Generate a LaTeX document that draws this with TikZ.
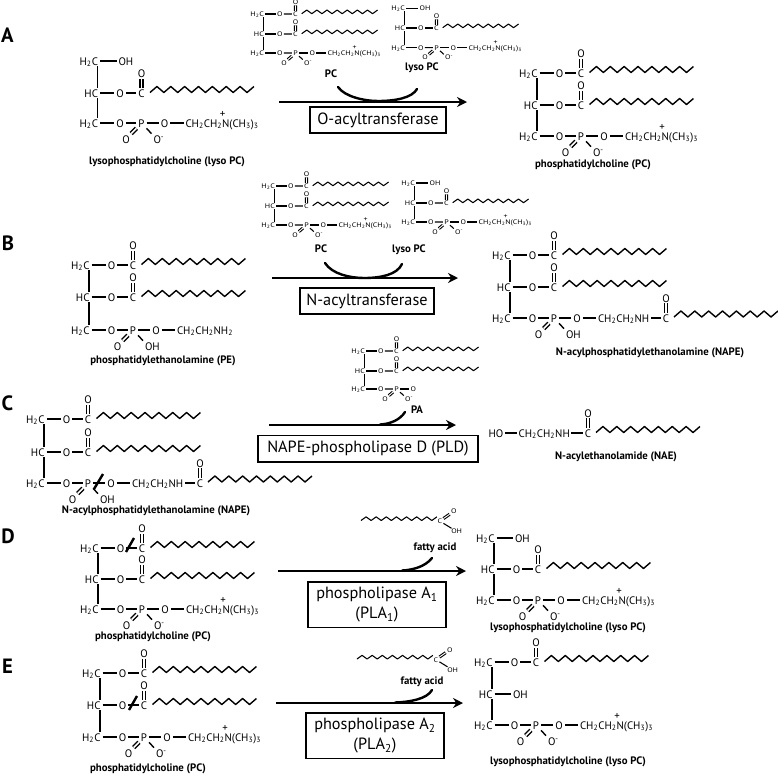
\documentclass[tikz,border=0pt]{standalone}
\usepackage{fontspec}
\setmainfont{PT Sans}
\usetikzlibrary{arrows.meta}

\newcommand{\atomfont}{\fontsize{8.15}{9}\selectfont}
\newcommand{\namefont}{\fontsize{8.1}{9}\selectfont\bfseries}
\newcommand{\htwoc}{H\textsubscript{2}C}
\newcommand{\chtwo}{CH\textsubscript{2}CH\textsubscript{2}}
\newcommand{\oxminus}{O\textsuperscript{-}}

% the parts every row shares
\newcommand{\spineatom}[1]{\node[atom,anchor=east] (g) at (8.5,0) {#1};}
\newcommand{\phoscore}[1]{
	\spineatom{\htwoc}
	\node[atom] (o) at (28.5,0) {O};
	\node[atom] (p) at (50,0) {P};
	\node[atom] (q) at (73,0) {O};
	\node[atom] (po) at (34.5,16) {O};
	\node[atom,anchor=west] (pr) at (60,16) {#1};
	\draw (g) -- (o);
	\draw (o) -- (p);
	\draw (p) -- (q);
	\draw[dbl] (p) -- (po);
	\draw (p) -- (pr.north west);
}
% spine bonds, #1 line style, #2 shift, #3 #4 #5 rows
\newcommand{\spinebonds}[5]{
	\draw[#1] ([xshift=#2]#3g.south east) -- ([xshift=#2]#4g.north east);
	\draw[#1] ([xshift=#2]#4g.south east) -- ([xshift=#2]#5g.north east);
}

\tikzset{
	atom/.style={font=\atomfont,inner xsep=1pt,inner ysep=.5pt,text height=6pt,text depth=0pt},
	molname/.style={font=\namefont,inner sep=0pt,text height=5.6pt,text depth=1.4pt},
	panel/.style={font=\fontsize{15.5}{16}\selectfont\bfseries,inner sep=0pt},
	enzyme/.style={draw,line width=1pt,font=\fontsize{12.2}{15}\selectfont,inner sep=0pt,align=center},
	reaction/.style={line width=2.2pt,-{Stealth[length=7.5pt,width=7.5pt]}},
	cosub/.style={line width=1.8pt,line cap=round},
	cutmark/.style={line width=1.8pt},
	bigline/.style={line width=1.05pt},
	smallline/.style={line width=.8pt},
	bigmol/.style={bigline,line join=round,dbl/.style={double,double distance=1.2pt}},
	smallmol/.style={xscale=.73,yscale=.61,transform shape,smallline,line join=round,dbl/.style={double,double distance=.7pt}},
	tail/.pic={
		\draw (0,0) \foreach \k in {1,...,7}{ -- ++(6.93,-6) -- ++(6.93,6) } -- ++(6.93,-6);
	},
	acylrow/.pic={
		\spineatom{#1}
		\node[atom] (o) at (28.5,0) {O};
		\node[atom] (c) at (50,0) {C};
		\node[atom] (co) at (50,-19.5) {O};
		\draw (g) -- (o);
		\draw (o) -- (c);
		\draw[dbl] (c) -- (co);
		\pic at (58.5,-.5) {tail};
	},
	hydroxyrow/.pic={
		\spineatom{#1}
		\node[atom,anchor=west] (oh) at (25,0) {OH};
		\draw (g) -- (oh);
	},
	pcrow/.pic={
		\phoscore{\oxminus}
		\node[atom,anchor=west] (n) at (92,0) {\chtwo N(CH\textsubscript{3})\textsubscript{3}};
		\node[atom] (plus) at (131,-10) {+};
		\draw (q) -- (n);
	},
	perow/.pic={
		\phoscore{OH}
		\node[atom,anchor=west] (n) at (92,0) {\chtwo NH\textsubscript{2}};
		\draw (q) -- (n);
	},
	naperow/.pic={
		\phoscore{OH}
		\node[atom,anchor=west] (n) at (92,0) {\chtwo NH};
		\node[atom] (c) at (162,0) {C};
		\node[atom] (co) at (162,-20) {O};
		\draw (q) -- (n);
		\draw (n) -- (c);
		\draw[dbl] (c) -- (co);
		\pic at (170,-1) {tail};
	},
	parow/.pic={
		\phoscore{\oxminus}
	},
	fattyacid/.pic={
		\pic at (0,0) {tail};
		\node[atom] (c) at (108,1) {C};
		\node[atom] (co) at (127,-15) {O};
		\node[atom] (oh) at (131,18) {OH};
		\draw[dbl] (c) -- (co);
		\draw (c) -- (oh);
	},
}

\begin{document}
\begin{tikzpicture}[x=0.75pt,y=-0.75pt]
	\useasboundingbox (0,0) rectangle (778,775);

	% panel letters
	\node[panel] (panelA) at (7.5,35) {A};
	\node[panel] (panelB) at (8,243) {B};
	\node[panel] (panelC) at (7.5,403) {C};
	\node[panel] (panelD) at (8,536) {D};
	\node[panel] (panelE) at (7.5,666) {E};

	% A
	\pic[bigmol] (Aa) at (91.5,61) {hydroxyrow={\htwoc}};
	\pic[bigmol] (Ab) at (91.5,93) {acylrow=HC};
	\pic[bigmol] (Ac) at (91.5,123) {pcrow};
	\spinebonds{bigline}{-2pt}{Aa}{Ab}{Ac}
	\node[molname] (nameAl) at (167,162) {lysophosphatidylcholine (lyso PC)};

	\pic[smallmol] (Ad) at (259,14) {acylrow={\htwoc}};
	\pic[smallmol] (Ae) at (259,34) {acylrow=HC};
	\pic[smallmol] (Af) at (259,53) {pcrow};
	\spinebonds{smallline}{-1.5pt}{Ad}{Ae}{Af}
	\node[molname] (nameAp) at (331,75) {PC};

	\pic[smallmol] (Ag) at (400,8.3) {hydroxyrow={\htwoc}};
	\pic[smallmol] (Ah) at (400,28) {acylrow=HC};
	\pic[smallmol] (Ai) at (400,47.7) {pcrow};
	\spinebonds{smallline}{-1.5pt}{Ag}{Ah}{Ai}
	\node[molname] (nameAy) at (422,68) {lyso PC};

	\pic[bigmol] (Aj) at (531,73) {acylrow={\htwoc}};
	\pic[bigmol] (Ak) at (531,105) {acylrow=HC};
	\pic[bigmol] (Am) at (531,136) {pcrow};
	\spinebonds{bigline}{-2pt}{Aj}{Ak}{Am}
	\node[molname] (nameAr) at (593,165) {phosphatidylcholine (PC)};

	\coordinate (arrAs) at (279,102);
	\coordinate (arrAe) at (467,102);
	\draw[reaction] (arrAs) -- (arrAe);
	\coordinate (subAs) at (338,87);
	\coordinate (subAm) at (378,101);
	\coordinate (subAe) at (417,89);
	\draw[cosub] (subAs) .. controls (345,97) and (365,101) .. (subAm) .. controls (395,101) and (412,98) .. (subAe);
	\node[enzyme,minimum width=102pt,minimum height=19.5pt] (enzA) at (378,120) {O-acyltransferase};

	% B
	\pic[bigmol] (Ba) at (83,265) {acylrow={\htwoc}};
	\pic[bigmol] (Bb) at (83,297) {acylrow=HC};
	\pic[bigmol] (Bc) at (83,330) {perow};
	\spinebonds{bigline}{-2pt}{Ba}{Bb}{Bc}
	\node[molname] (nameBl) at (163,361) {phosphatidylethanolamine (PE)};

	\pic[smallmol] (Bd) at (270,186) {acylrow={\htwoc}};
	\pic[smallmol] (Be) at (270,206) {acylrow=HC};
	\pic[smallmol] (Bf) at (270,225) {pcrow};
	\spinebonds{smallline}{-1.5pt}{Bd}{Be}{Bf}
	\node[molname] (nameBp) at (321,250) {PC};

	\pic[smallmol] (Bg) at (410,183) {hydroxyrow={\htwoc}};
	\pic[smallmol] (Bh) at (410,203) {acylrow=HC};
	\pic[smallmol] (Bi) at (410,222) {pcrow};
	\spinebonds{smallline}{-1.5pt}{Bg}{Bh}{Bi}
	\node[molname] (nameBy) at (409,250) {lyso PC};

	\pic[bigmol] (Bj) at (504,255) {acylrow={\htwoc}};
	\pic[bigmol] (Bk) at (504,287) {acylrow=HC};
	\pic[bigmol] (Bm) at (504,318) {naperow};
	\spinebonds{bigline}{-2pt}{Bj}{Bk}{Bm}
	\node[molname] (nameBr) at (650,353) {N-acylphosphatidylethanolamine (NAPE)};

	\coordinate (arrBs) at (272,278);
	\coordinate (arrBe) at (458,278);
	\draw[reaction] (arrBs) -- (arrBe);
	\coordinate (subBs) at (325,263);
	\coordinate (subBm) at (364,278);
	\coordinate (subBe) at (402,264);
	\draw[cosub] (subBs) .. controls (332,274) and (350,278) .. (subBm) .. controls (380,278) and (397,275) .. (subBe);
	\node[enzyme,minimum width=100.5pt,minimum height=19.5pt] (enzB) at (367,301) {N-acyltransferase};

	% C
	\pic[bigmol] (Ca) at (38,419) {acylrow={\htwoc}};
	\pic[bigmol] (Cb) at (38,452) {acylrow=HC};
	\pic[bigmol] (Cc) at (38,483) {naperow};
	\spinebonds{bigline}{-2pt}{Ca}{Cb}{Cc}
	\draw[cutmark] (103,474) -- (94,489);
	\node[molname] (nameCl) at (156,510.5) {N-acylphosphatidylethanolamine (NAPE)};

	\pic[smallmol] (Cd) at (360,351) {acylrow={\htwoc}};
	\pic[smallmol] (Ce) at (360,371) {acylrow=HC};
	\pic[smallmol] (Cf) at (360,389) {parow};
	\spinebonds{smallline}{-1.5pt}{Cd}{Ce}{Cf}
	\node[molname] (nameCp) at (417,411) {PA};

	\node[atom] (naeh) at (496,433) {HO};
	\node[atom,anchor=west] (naen) at (517,433) {\chtwo NH};
	\node[atom] (naec) at (588,433) {C};
	\node[atom] (naeo) at (588,413) {O};
	\draw[bigmol] (naeh) -- (naen);
	\draw[bigmol] (naen) -- (naec);
	\draw[bigmol,dbl] (naec) -- (naeo);
	\pic[bigmol] at (596,432.5) {tail};
	\node[molname] (nameCr) at (616,457) {N-acylethanolamide (NAE)};

	\coordinate (arrCs) at (269,425);
	\coordinate (arrCe) at (456,425);
	\draw[reaction] (arrCs) -- (arrCe);
	\coordinate (subCs) at (405,412);
	\coordinate (subCe) at (380,424.5);
	\draw[cosub] (subCs) .. controls (400,420) and (390,424) .. (subCe);
	\node[enzyme,minimum width=165pt,minimum height=20pt] (enzC) at (368,448.5) {NAPE-phospholipase D (PLD)};

	% D
	\pic[bigmol] (Da) at (92,548) {acylrow={\htwoc}};
	\pic[bigmol] (Db) at (92,579) {acylrow=HC};
	\pic[bigmol] (Dc) at (92,609) {pcrow};
	\spinebonds{bigline}{-2pt}{Da}{Db}{Dc}
	\draw[cutmark] (134,538) -- (126,552);
	\node[molname] (nameDl) at (153,637) {phosphatidylcholine (PC)};

	\pic[smallmol] (Dd) at (361,520.5) {fattyacid};
	\node[molname] (nameDf) at (435,548) {fatty acid};

	\pic[bigmol] (De) at (488,538) {hydroxyrow={\htwoc}};
	\pic[bigmol] (Df) at (488,569) {acylrow=HC};
	\pic[bigmol] (Dg) at (488,600) {pcrow};
	\spinebonds{bigline}{-2pt}{De}{Df}{Dg}
	\node[molname] (nameDr) at (568,628) {lysophosphatidylcholine (lyso PC)};

	\coordinate (arrDs) at (278,571);
	\coordinate (arrDe) at (466,571);
	\draw[reaction] (arrDs) -- (arrDe);
	\coordinate (subDs) at (432,558);
	\coordinate (subDe) at (402,570.5);
	\draw[cosub] (subDs) .. controls (425,567) and (412,570) .. (subDe);
	\node[enzyme,minimum width=103.5pt,minimum height=34pt] (enzD) at (377,604.5) {phospholipase A\textsubscript{1}\\(PLA\textsubscript{1})};

	% E
	\pic[bigmol] (Ea) at (94,673) {acylrow={\htwoc}};
	\pic[bigmol] (Eb) at (94,705) {acylrow=HC};
	\pic[bigmol] (Ec) at (94,737) {pcrow};
	\spinebonds{bigline}{-2pt}{Ea}{Eb}{Ec}
	\draw[cutmark] (137,696) -- (129,710);
	\node[molname] (nameEl) at (148,769) {phosphatidylcholine (PC)};

	\pic[smallmol] (Ed) at (357,659) {fattyacid};
	\node[molname] (nameEf) at (422,682) {fatty acid};

	\pic[bigmol] (Ee) at (486,662) {acylrow={\htwoc}};
	\pic[bigmol] (Ef) at (486,694) {hydroxyrow=HC};
	\pic[bigmol] (Eg) at (486,725) {pcrow};
	\spinebonds{bigline}{-2pt}{Ee}{Ef}{Eg}
	\node[molname] (nameEr) at (568,762) {lysophosphatidylcholine (lyso PC)};

	\coordinate (arrEs) at (276,703);
	\coordinate (arrEe) at (463,703);
	\draw[reaction] (arrEs) -- (arrEe);
	\coordinate (subEs) at (432,690);
	\coordinate (subEe) at (395,702.5);
	\draw[cosub] (subEs) .. controls (427,699) and (410,702) .. (subEe);
	\node[enzyme,minimum width=103.5pt,minimum height=34pt] (enzE) at (375,735.5) {phospholipase A\textsubscript{2}\\(PLA\textsubscript{2})};
\end{tikzpicture}
\end{document}
